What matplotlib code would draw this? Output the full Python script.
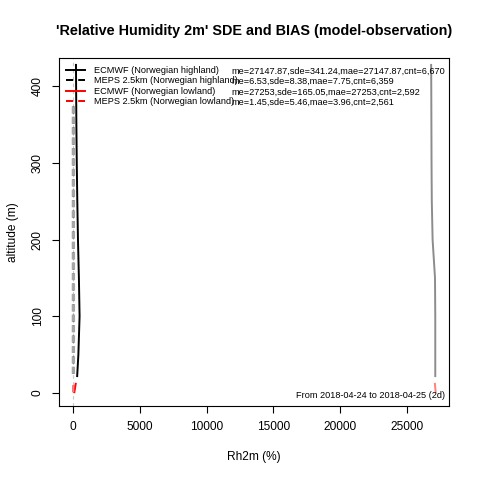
import matplotlib
matplotlib.use("Agg")
import matplotlib.pyplot as plt

plt.rcParams['font.family'] = ['Liberation Sans', 'DejaVu Sans']
plt.rcParams['lines.scale_dashes'] = False

# ---- data ----
models = ["ECMWF (Norwegian highland)", "MEPS 2.5km (Norwegian highland)",
          "ECMWF (Norwegian lowland)", "MEPS 2.5km (Norwegian lowland)"]
stats = ["me=27147.87,sde=341.24,mae=27147.87,cnt=6,670",
         "me=6.53,sde=8.38,mae=7.75,cnt=6,359",
         "me=27253,sde=165.05,mae=27253,cnt=2,592",
         "me=1.45,sde=5.46,mae=3.96,cnt=2,561"]

alt_ecmwf_high = [22, 50, 100, 150, 200, 250, 300, 350, 400, 428]
sde_ecmwf_high = [290, 380, 470, 420, 350, 300, 260, 230, 210, 200]
bias_ecmwf_high = [27150, 27150, 27150, 27130, 26950, 26890, 26870, 26860, 26850, 26840]

alt_meps_high = [25, 50, 100, 150, 200, 250, 300, 350, 375]
sde_meps_high = [9, 8, 8, 9, 8, 8, 9, 8, 8]
bias_meps_high = [7, 6, 6, 7, 6, 7, 6, 6, 7]

alt_ecmwf_low = [1, 12]
sde_ecmwf_low = [80, 180]
bias_ecmwf_low = [27180, 27120]

alt_meps_low = [1, 12]
sde_meps_low = [5, 6]
bias_meps_low = [1, 2]

title = "'Relative Humidity 2m' SDE and BIAS (model-observation)"
period = "From 2018-04-24 to 2018-04-25 (2d)"

# ---- figure ----
fig = plt.figure(figsize=(4.8, 4.8), dpi=100)
ax = fig.add_axes([59/480, (480-406)/480, 390/480, 348/480])

ax.axvline(0, color="#c8c8c8", lw=0.8, ls=(0, (2.5, 2.5)), zorder=1)

dash = (0, (5, 2.5))
grey = "#8c8c8c"
pink = "#ff8080"
ax.plot(sde_ecmwf_high, alt_ecmwf_high, color="black", lw=1.4, zorder=3)
ax.plot(bias_ecmwf_high, alt_ecmwf_high, color=grey, lw=1.4, zorder=3)
ax.plot(sde_meps_high, alt_meps_high, color="black", lw=1.4, ls=dash, zorder=3)
ax.plot(bias_meps_high, alt_meps_high, color="#a6a6a6", lw=2.4, ls=dash, zorder=4)
ax.plot(sde_ecmwf_low, alt_ecmwf_low, color="red", lw=1.4, zorder=3)
ax.plot(bias_ecmwf_low, alt_ecmwf_low, color=pink, lw=1.4, zorder=3)
ax.plot(sde_meps_low, alt_meps_low, color="red", lw=1.4, ls=dash, zorder=3)
ax.plot(bias_meps_low, alt_meps_low, color=pink, lw=1.4, ls=dash, zorder=4)

ax.set_xlim(-1073, 28180)
ax.set_ylim(-17, 437)
ax.set_xticks([0, 5000, 10000, 15000, 20000, 25000])
ax.set_yticks([0, 100, 200, 300, 400])
ax.tick_params(axis="both", direction="out", length=5, width=0.8, labelsize=8.6, pad=6)
for lab in ax.get_yticklabels():
    lab.set_rotation(90)
    lab.set_va("center")
for s in ax.spines.values():
    s.set_linewidth(0.8)

ax.set_xlabel("Rh2m (%)", fontsize=8.6, labelpad=13)
ax.set_ylabel("altitude (m)", fontsize=8.6, labelpad=9)
fig.text(254/480, 1 - 31/480, title, ha="center", va="center",
         fontsize=10.4, fontweight="bold")

# legend
leg_dash = (0, (5.2, 3.6))
styles = [("black", "-"), ("black", leg_dash), ("red", "-"), ("red", leg_dash)]
handles = [plt.Line2D([], [], color=c, ls=l, lw=1.4) for c, l in styles]
ax.legend(handles, models, loc="upper left", bbox_to_anchor=(7/390, 1 - 8/348),
          frameon=False, fontsize=6.6, handlelength=2.1, handletextpad=1.0,
          labelspacing=0.15, borderaxespad=0, borderpad=0)
for i, s in enumerate(stats):
    fig.text(231/480, 1 - (71 + i*10.5)/480, s, ha="left", va="center", fontsize=6.6)

ax.text(445/480, 1 - 396/480, period, transform=fig.transFigure,
        ha="right", va="center", fontsize=6.6)

fig.savefig("out.png", dpi=100)
